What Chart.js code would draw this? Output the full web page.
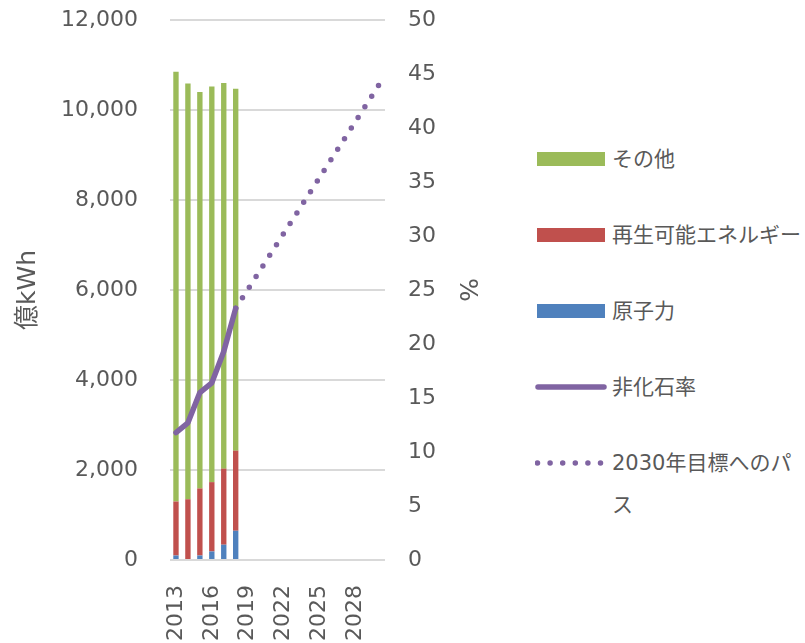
<!DOCTYPE html>
<html lang="ja">
<head>
<meta charset="utf-8">
<title>電源構成と非化石率</title>
<script src="https://cdn.jsdelivr.net/npm/chart.js@4.4.0/dist/chart.umd.min.js"></script>
<style>
    html, body {
        margin: 0;
        padding: 0;
        width: 805px;
        height: 643px;
        overflow: hidden;
        background: #fff;
    }
    #wrap {
        position: absolute;
        left: 0;
        top: 0;
        width: 500px;
        height: 643px;
    }
    .item {
        position: absolute;
        left: 535px;
        height: 42px;
    }
    .item canvas {
        position: absolute;
        left: 0;
        top: 0;
    }
    .item span {
        position: absolute;
        left: 77px;
        top: 0;
        width: 191px;
        font: 21px 'DejaVu Sans', 'Noto Sans CJK JP', sans-serif;
        line-height: 42px;
        color: #595959;
        line-break: anywhere;
    }
</style>
</head>
<body>
<div id="wrap"><canvas id="chart"></canvas></div>
<div id="legend"></div>
<script>
'use strict';

const years = ['2013', '2014', '2015', '2016', '2017', '2018', '2019', '2020', '2021',
    '2022', '2023', '2024', '2025', '2026', '2027', '2028', '2029', '2030'];

// 億kWh
const nuclear = [100, 0, 100, 190, 340, 650];
const renewable = [1200, 1350, 1490, 1540, 1690, 1780];
const others = [9550, 9240, 8810, 8790, 8570, 8040];

// %
const nonFossil = [11.8, 12.7, 15.5, 16.4, 19.3, 23.3];
const path2030 = [null, null, null, null, null, 23.3, null, null, null,
    null, null, null, null, null, null, null, null, 44];

const kwhTicks = [0, 2000, 4000, 6000, 8000, 10000, 12000];
const pctTicks = [0, 5, 10, 15, 20, 25, 30, 35, 40, 45, 50];

const GREEN = '#9bbb59';
const RED = '#c0504d';
const BLUE = '#4f81bd';
const PURPLE = '#8064a2';
const TEXT = '#595959';
const DOTS = [0, 12.6];

Chart.defaults.font.family = "'DejaVu Sans', 'Noto Sans CJK JP', sans-serif";
Chart.defaults.font.size = 22;
Chart.defaults.color = TEXT;

function barSet(label, data, color){
    return {
        type: 'bar',
        label: label,
        data: data,
        backgroundColor: color,
        stack: 'kwh',
        yAxisID: 'y',
        order: 1,
        barPercentage: 0.45,
        categoryPercentage: 1,
    };
}

// fixed axis box sizes, so the tick padding doesn't push the plot down
function fixSize(width){
    return function(scale){
        scale.width = width;
        scale.paddingTop = 13;
        scale.paddingBottom = 13;
    };
}

const wykres = new Chart(document.getElementById('chart'), {
    data: {
        labels: years,
        datasets: [
            barSet('原子力', nuclear, BLUE),
            barSet('再生可能エネルギー', renewable, RED),
            barSet('その他', others, GREEN),
            {
                type: 'line',
                label: '非化石率',
                data: nonFossil,
                borderColor: PURPLE,
                backgroundColor: PURPLE,
                borderWidth: 5.5,
                borderCapStyle: 'round',
                borderJoinStyle: 'round',
                pointRadius: 0,
                yAxisID: 'y1',
                order: 0,
            },
            {
                type: 'line',
                label: '2030年目標へのパス',
                data: path2030,
                borderColor: PURPLE,
                backgroundColor: PURPLE,
                borderWidth: 5.5,
                borderDash: DOTS,
                borderCapStyle: 'round',
                pointRadius: 0,
                spanGaps: true,
                yAxisID: 'y1',
                order: 0,
            },
        ]
    },
    options: {
        responsive: true,
        maintainAspectRatio: false,
        animation: false,
        layout: {
            padding: { left: 0, right: 15, top: 20, bottom: 0 }
        },
        plugins: {
            legend: { display: false },
            tooltip: { enabled: false },
        },
        scales: {
            x: {
                grid: { display: false, drawTicks: false },
                border: { display: false },
                ticks: {
                    autoSkip: false,
                    minRotation: 90,
                    maxRotation: 90,
                    padding: 25,
                    callback: function(value, index){
                        return index % 3 === 0 ? this.getLabelForValue(value) : '';
                    },
                },
                afterFit: function(scale){
                    scale.height = 83;
                },
            },
            y: {
                position: 'left',
                min: kwhTicks[0],
                max: kwhTicks[kwhTicks.length - 1],
                afterBuildTicks: function(scale){
                    scale.ticks = kwhTicks.map(v => ({ value: v }));
                },
                afterFit: fixSize(170),
                ticks: { padding: 32 },
                grid: { color: '#d9d9d9', lineWidth: 2, drawTicks: false },
                border: { display: false },
                title: {
                    display: true,
                    text: '億kWh',
                    color: TEXT,
                    font: { size: 25 },
                    padding: { top: 13, bottom: 4 },
                },
            },
            y1: {
                position: 'right',
                min: pctTicks[0],
                max: pctTicks[pctTicks.length - 1],
                afterBuildTicks: function(scale){
                    scale.ticks = pctTicks.map(v => ({ value: v }));
                },
                afterFit: fixSize(100),
                ticks: { padding: 23 },
                grid: { display: false, drawTicks: false },
                border: { display: false },
                title: {
                    display: true,
                    text: '%',
                    color: TEXT,
                    font: { size: 25 },
                    padding: { top: 4, bottom: 4 },
                },
            },
        },
    },
});

// legend on the right, top to bottom
const legendOrder = ['その他', '再生可能エネルギー', '原子力', '非化石率', '2030年目標へのパス'];

function drawMarker(c, ds){
    if(ds.type === 'bar'){
        c.fillStyle = ds.backgroundColor;
        c.fillRect(2, 14, 68, 14);
    }else{
        c.strokeStyle = ds.borderColor;
        c.lineWidth = ds.borderWidth;
        c.lineCap = 'round';
        if(ds.borderDash){
            c.setLineDash(ds.borderDash);
            c.beginPath();
            c.moveTo(2.5, 21);
            c.lineTo(68, 21);
        }else{
            c.beginPath();
            c.moveTo(3, 21);
            c.lineTo(69, 21);
        }
        c.stroke();
    }
}

function buildLegend(chart){
    const box = document.getElementById('legend');
    box.innerHTML = '';
    legendOrder.forEach(function(name, i){
        const ds = chart.data.datasets.find(d => d.label == name);
        const item = document.createElement('div');
        item.className = 'item';
        item.style.top = (159 + 76 * i - 21) + 'px';

        const mark = document.createElement('canvas');
        mark.width = 74;
        mark.height = 42;
        drawMarker(mark.getContext('2d'), ds);
        item.appendChild(mark);

        const txt = document.createElement('span');
        txt.textContent = ds.label;
        item.appendChild(txt);
        box.appendChild(item);
    });
}

buildLegend(wykres);
</script>
</body>
</html>
